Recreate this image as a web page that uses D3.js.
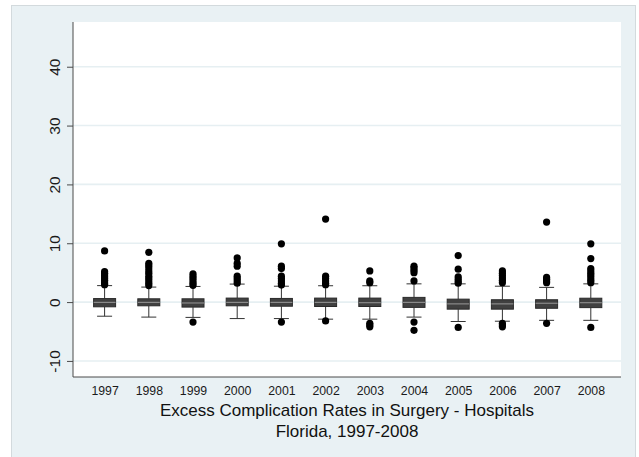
<!DOCTYPE html>
<html>
<head>
<meta charset="utf-8">
<script src="https://cdn.jsdelivr.net/npm/d3@7/dist/d3.min.js"></script>
<style>
  html, body { margin: 0; padding: 0; background: #ffffff; }
  svg { display: block; font-family: "Liberation Sans", Arial, sans-serif; }
</style>
</head>
<body>
<svg id="chart" width="639" height="457"></svg>
<script>
// Excess complication rates by year: box summaries and outlying hospitals
const years = ["1997","1998","1999","2000","2001","2002","2003","2004","2005","2006","2007","2008"];
const q1     = [-0.80,-0.63,-0.85,-0.63,-0.70,-0.75,-0.75,-0.90,-1.20,-1.20,-1.05,-0.94];
const median = [-0.05,-0.05,-0.15,-0.05,-0.05,-0.05,-0.10,-0.05,-0.30,-0.30,-0.20,-0.10];
const q3     = [ 0.60, 0.56, 0.56, 0.68, 0.62, 0.68, 0.68, 0.80, 0.50, 0.40, 0.40, 0.66];
const whiskerLow  = [-2.40,-2.55,-2.60,-2.80,-2.80,-2.90,-2.90,-2.55,-3.30,-3.25,-3.10,-3.10];
const whiskerHigh = [ 2.80, 2.55, 2.66, 3.06, 2.70, 2.78, 2.78, 3.10, 3.10, 2.70, 2.50, 3.10];
const outliers = [
  [8.7, 5.2, 4.9, 4.6, 4.3, 4.0, 3.7, 3.4, 3.1, 2.95],
  [8.45, 6.6, 6.2, 5.8, 5.3, 4.9, 4.4, 4.0, 3.6, 3.2, 2.8],
  [4.8, 4.4, 4.0, 3.6, 3.2, 2.85, -3.4],
  [7.5, 6.6, 6.1, 4.4, 4.0, 3.6, 3.2],
  [9.9, 6.1, 5.7, 4.4, 4.0, 3.6, 3.2, 2.9, -3.4],
  [14.1, 4.4, 4.0, 3.6, 3.2, 2.95, -3.2],
  [5.3, 3.6, 3.3, -3.6, -3.9, -4.2],
  [6.1, 5.8, 5.4, 5.0, 3.6, -3.4, -4.8],
  [7.9, 5.6, 4.3, 3.9, 3.5, 3.2, -4.3],
  [5.3, 4.9, 4.5, 4.1, 3.7, 3.3, -3.6, -3.9, -4.2],
  [13.6, 4.2, 3.9, 3.6, 3.3, -3.6],
  [9.9, 7.4, 5.7, 5.3, 4.9, 4.5, 4.1, 3.7, 3.3, -4.3]
];
const yTicks = [-10, 0, 10, 20, 30, 40];
const titleLines = ["Excess Complication Rates in Surgery - Hospitals", "Florida, 1997-2008"];

const svg = d3.select("#chart");
const plot = { left: 73, right: 621, top: 22, bottom: 377 };

// outer graph region
svg.append("rect")
  .attr("x", 11.5).attr("y", 5.5).attr("width", 624).attr("height", 460)
  .attr("fill", "#e9f1f4").attr("stroke", "#d3dadd").attr("stroke-width", 1);

// plot region
svg.append("rect")
  .attr("x", plot.left).attr("y", plot.top)
  .attr("width", plot.right - plot.left).attr("height", plot.bottom - plot.top)
  .attr("fill", "#ffffff");

const y = d3.scaleLinear().domain([-12.73, 47.6]).range([plot.bottom, plot.top]);
const x = d3.scalePoint().domain(years).range([104.6, 590.8]);

// horizontal grid lines
svg.append("g").selectAll("line").data(yTicks).join("line")
  .attr("x1", plot.left).attr("x2", plot.right)
  .attr("y1", d => y(d)).attr("y2", d => y(d))
  .attr("stroke", "#e6eff2").attr("stroke-width", 1.6);

// y axis (plain hyphen for negatives)
const yAxis = svg.append("g")
  .attr("transform", `translate(${plot.left},0)`)
  .call(d3.axisLeft(y).tickValues(yTicks).tickFormat(d => String(d))
    .tickSize(6).tickSizeOuter(0).tickPadding(7));
yAxis.select(".domain").attr("stroke", "#4a4a4a").attr("d", `M0,${plot.top}V${plot.bottom}`);
yAxis.selectAll(".tick line").attr("stroke", "#4a4a4a");
yAxis.selectAll(".tick text")
  .attr("font-size", 15.5).attr("fill", "#1a1a1a")
  .attr("text-anchor", "middle").attr("dy", 0)
  .attr("transform", "translate(-13,0) rotate(-90)")
  .attr("x", 0).attr("y", 0);

// x axis
const xAxis = svg.append("g")
  .attr("transform", `translate(0,${plot.bottom})`)
  .call(d3.axisBottom(x).tickSize(0).tickSizeOuter(0).tickPadding(9));
xAxis.select(".domain").attr("stroke", "#4a4a4a").attr("d", `M${plot.left},0H${plot.right}`);
xAxis.selectAll(".tick text").attr("font-size", 12.3).attr("fill", "#1a1a1a");

// boxes
const boxW = 22, capW = 15;
const g = svg.append("g");
years.forEach((yr, i) => {
  const cx = x(yr);
  const grp = g.append("g");
  grp.append("line")
    .attr("x1", cx).attr("x2", cx).attr("y1", y(q3[i])).attr("y2", y(whiskerHigh[i]))
    .attr("stroke", "#333").attr("stroke-width", 1);
  grp.append("line")
    .attr("x1", cx).attr("x2", cx).attr("y1", y(q1[i])).attr("y2", y(whiskerLow[i]))
    .attr("stroke", "#333").attr("stroke-width", 1);
  [whiskerHigh[i], whiskerLow[i]].forEach(v => {
    grp.append("line")
      .attr("x1", cx - capW / 2).attr("x2", cx + capW / 2)
      .attr("y1", y(v)).attr("y2", y(v))
      .attr("stroke", "#333").attr("stroke-width", 1);
  });
  grp.append("rect")
    .attr("x", cx - boxW / 2).attr("y", y(q3[i]))
    .attr("width", boxW).attr("height", y(q1[i]) - y(q3[i]))
    .attr("fill", "#404040").attr("stroke", "#2a2a2a").attr("stroke-width", 1);
  grp.append("line")
    .attr("x1", cx - boxW / 2).attr("x2", cx + boxW / 2)
    .attr("y1", y(median[i])).attr("y2", y(median[i]))
    .attr("stroke", "#8a8a8a").attr("stroke-width", 1.2);
  grp.selectAll("circle").data(outliers[i]).join("circle")
    .attr("cx", cx).attr("cy", d => y(d)).attr("r", 3.6)
    .attr("fill", "#000");
});

// title below the plot
svg.append("g").selectAll("text").data(titleLines).join("text")
  .attr("x", (plot.left + plot.right) / 2)
  .attr("y", (d, i) => 415.5 + i * 21.8)
  .attr("text-anchor", "middle")
  .attr("font-size", 17)
  .attr("fill", "#111")
  .text(d => d);
</script>
</body>
</html>
